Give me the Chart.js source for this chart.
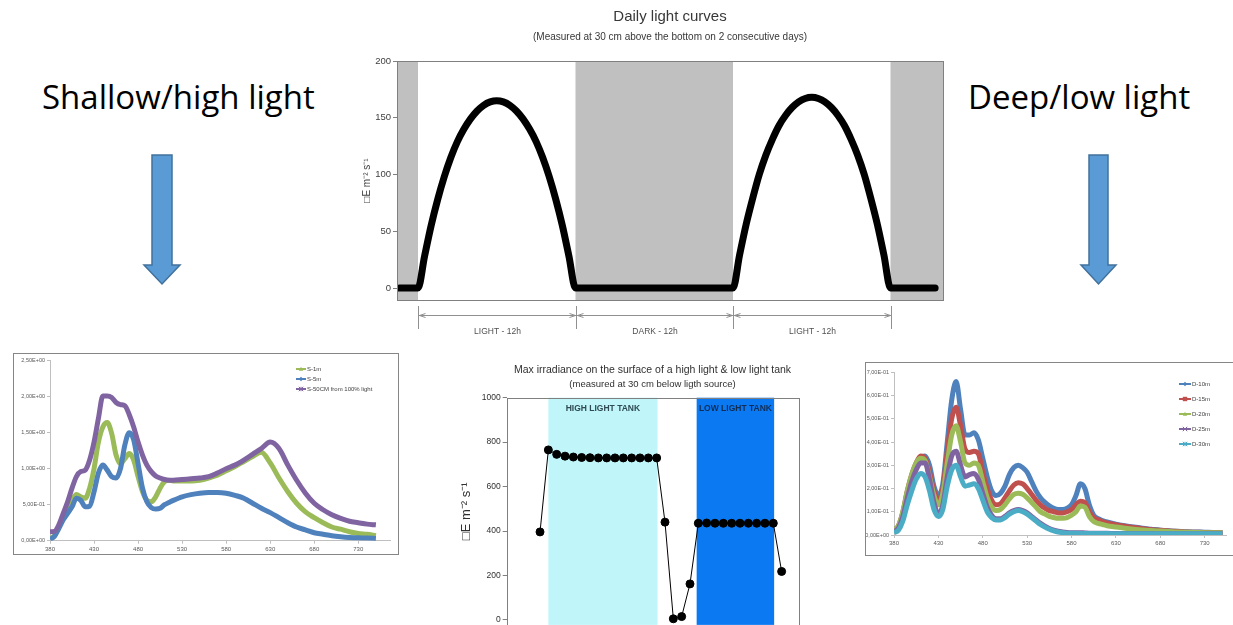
<!DOCTYPE html>
<html><head><meta charset="utf-8">
<script src="https://cdn.jsdelivr.net/npm/chart.js@4.4.1/dist/chart.umd.min.js"></script>
<style>
html,body{margin:0;padding:0;background:#fff;width:1233px;height:625px;overflow:hidden;position:relative}
canvas{position:absolute;display:block}
.big{position:absolute;font-family:'Open Sans',sans-serif;font-size:33px;color:#000;white-space:nowrap;line-height:1}
svg{position:absolute;left:0;top:0}
</style></head><body>
<div class="big" style="left:42px;top:80px">Shallow/high light</div>
<div class="big" style="left:968px;top:80px">Deep/low light</div>
<svg width="1233" height="625">
<path d="M152,155 H172 V265 H180 L162,284 L144,265 H152 Z" fill="#5B9BD5" stroke="#41719C" stroke-width="1.5"/>
<path d="M1089,155 H1108 V265 H1116 L1098.5,284 L1081,265 H1089 Z" fill="#5B9BD5" stroke="#41719C" stroke-width="1.5"/>
</svg>
<canvas id="cDaily" width="620" height="345" style="left:340px;top:0px"></canvas>
<canvas id="cTank" width="370" height="277" style="left:440px;top:355px"></canvas>
<canvas id="cLeft" width="386" height="202" style="left:13px;top:353px"></canvas>
<canvas id="cRight" width="368" height="194" style="left:865px;top:362px"></canvas>
<script>
// ---------- Daily light curves ----------
const dayHours = [-1.4,-0.7,0,0.5,1,1.5,2,2.5,3,3.5,4,4.5,5,5.5,6,6.5,7,7.5,8,8.5,9,9.5,10,10.5,11,11.5,12,15,18,21,24,24.5,25,25.5,26,26.5,27,27.5,28,28.5,29,29.5,30,30.5,31,31.5,32,32.5,33,33.5,34,34.5,35,35.5,36,37.5,39.4];
const dayPar = [0,0,0,28,55,78,98,115,129,140,149,156,161,164,165,164,161,156,149,140,129,115,98,78,55,28,0,0,0,0,0,29,56,79,100,117,131,143,152,159,164,167,168,167,164,159,152,143,131,117,100,79,56,29,0,0,0];
const dayYTicks = [0,50,100,150,200];
const darkPeriods = [[-1.6,0],[12,24],[36,40]];
const periodBounds = [0,12,24,36];
const periodLabels = ['LIGHT - 12h','DARK - 12h','LIGHT - 12h'];

// ---------- Max irradiance tank ----------
const tankPos = [1,2,3,4,5,6,7,8,9,10,11,12,13,14,15,16,17,18,19,20,21,22,23,24,25,26,27,28,29,30];
const tankPar = [396,765,745,737,733,731,730,729,729,729,729,729,729,729,729,440,5,15,162,435,436,435,435,435,435,435,435,435,435,218];
const tankYTicks = [0,200,400,600,800,1000];
const tankZones = [[2,15.1],[19.8,29.1]];
const tankZoneLabels = ['HIGH LIGHT TANK','LOW LIGHT TANK'];

// ---------- Shallow spectra ----------
const leftWl = [380,385,390,395,400,405,410,415,420,425,430,435,440,445,450,455,460,465,470,475,480,485,490,495,500,505,510,515,520,530,540,550,560,570,580,590,600,610,620,630,640,650,660,670,680,690,700,710,720,730,740,750];
const s1m = [0.03,0.07,0.19,0.31,0.43,0.56,0.64,0.61,0.59,0.73,1.0,1.37,1.58,1.64,1.49,1.19,1.07,1.14,1.21,1.12,0.89,0.68,0.56,0.54,0.61,0.73,0.82,0.84,0.83,0.83,0.83,0.84,0.87,0.91,0.97,1.03,1.10,1.17,1.23,1.08,0.87,0.68,0.52,0.40,0.32,0.25,0.19,0.16,0.125,0.10,0.09,0.07];
const s5m = [0.02,0.06,0.17,0.29,0.38,0.47,0.59,0.56,0.47,0.48,0.68,0.94,1.05,0.98,0.89,0.87,1.0,1.33,1.50,1.40,1.07,0.73,0.54,0.46,0.44,0.45,0.50,0.53,0.56,0.61,0.64,0.66,0.67,0.67,0.66,0.63,0.59,0.52,0.45,0.39,0.32,0.25,0.19,0.15,0.11,0.09,0.07,0.056,0.046,0.04,0.037,0.03];
const s50cm = [0.125,0.13,0.22,0.38,0.54,0.73,0.89,0.96,0.98,1.12,1.37,1.70,2.01,2.01,1.99,1.92,1.89,1.875,1.75,1.58,1.37,1.19,1.05,0.96,0.90,0.87,0.85,0.84,0.84,0.85,0.86,0.87,0.89,0.94,1.0,1.05,1.12,1.20,1.28,1.37,1.28,1.05,0.84,0.66,0.52,0.43,0.36,0.31,0.27,0.25,0.23,0.22];
const leftNames = ['S-1m','S-5m','S-50CM from 100% light'];
const leftXTicks = [380,430,480,530,580,630,680,730];
const leftYTicks = [0,0.5,1,1.5,2,2.5];
const leftYLabels = ['0,00E+00','5,00E-01','1,00E+00','1,50E+00','2,00E+00','2,50E+00'];

// ---------- Deep spectra ----------
const rightWl = [380,385,390,395,400,405,410,415,420,425,430,435,440,445,450,455,460,465,470,475,480,485,490,495,500,505,510,515,520,525,530,535,540,545,550,555,560,565,570,575,580,585,590,595,600,605,610,615,620,630,640,650,660,670,680,690,700,710,720,730,740,750];
const d10 = [0.02,0.03,0.08,0.17,0.24,0.29,0.33,0.34,0.30,0.21,0.17,0.22,0.40,0.58,0.66,0.54,0.43,0.43,0.44,0.41,0.33,0.25,0.19,0.17,0.18,0.21,0.26,0.29,0.30,0.29,0.27,0.23,0.19,0.16,0.14,0.125,0.115,0.11,0.11,0.115,0.13,0.17,0.22,0.20,0.13,0.085,0.07,0.062,0.056,0.047,0.04,0.034,0.029,0.025,0.021,0.018,0.016,0.014,0.013,0.012,0.011,0.011];
const d15 = [0.02,0.04,0.10,0.19,0.26,0.31,0.34,0.33,0.27,0.19,0.15,0.20,0.36,0.50,0.55,0.47,0.37,0.355,0.36,0.35,0.27,0.20,0.15,0.13,0.135,0.16,0.19,0.215,0.225,0.22,0.20,0.175,0.15,0.13,0.115,0.105,0.10,0.095,0.095,0.10,0.11,0.13,0.145,0.14,0.10,0.075,0.065,0.058,0.052,0.044,0.038,0.032,0.027,0.023,0.02,0.017,0.015,0.013,0.012,0.011,0.011,0.01];
const d20 = [0.02,0.04,0.10,0.19,0.26,0.31,0.33,0.32,0.25,0.17,0.13,0.18,0.31,0.43,0.47,0.40,0.31,0.30,0.31,0.30,0.23,0.16,0.12,0.105,0.11,0.13,0.155,0.175,0.18,0.175,0.16,0.14,0.12,0.10,0.09,0.08,0.075,0.072,0.072,0.075,0.085,0.10,0.125,0.12,0.08,0.058,0.05,0.045,0.04,0.034,0.029,0.025,0.022,0.019,0.017,0.015,0.013,0.012,0.011,0.01,0.01,0.01];
const d25 = [0.015,0.03,0.08,0.16,0.23,0.28,0.31,0.31,0.24,0.14,0.09,0.13,0.25,0.34,0.36,0.30,0.25,0.26,0.265,0.24,0.18,0.12,0.085,0.07,0.07,0.08,0.095,0.105,0.11,0.105,0.095,0.08,0.065,0.05,0.038,0.028,0.021,0.016,0.013,0.011,0.01,0.01,0.01,0.009,0.008,0.008,0.007,0.007,0.007,0.006,0.006,0.006,0.006,0.006,0.005,0.005,0.005,0.005,0.005,0.005,0.005,0.005];
const d30 = [0.01,0.02,0.06,0.13,0.19,0.24,0.265,0.25,0.19,0.11,0.08,0.11,0.21,0.28,0.30,0.25,0.21,0.215,0.22,0.20,0.15,0.10,0.075,0.065,0.065,0.075,0.09,0.10,0.105,0.10,0.09,0.075,0.06,0.045,0.034,0.025,0.018,0.013,0.01,0.008,0.007,0.007,0.006,0.006,0.006,0.006,0.006,0.006,0.006,0.005,0.005,0.005,0.005,0.005,0.005,0.005,0.005,0.005,0.005,0.005,0.005,0.005];
const rightNames = ['D-10m','D-15m','D-20m','D-25m','D-30m'];
const rightXTicks = [380,430,480,530,580,630,680,730];
const rightYTicks = [0,0.1,0.2,0.3,0.4,0.5,0.6,0.7];
const rightYLabels = ['0,00E+00','1,00E-01','2,00E-01','3,00E-01','4,00E-01','5,00E-01','6,00E-01','7,00E-01'];

const FONT = "'Liberation Sans', Arial, sans-serif";
const XLF = "'Liberation Sans', Arial, sans-serif";
const pts = (xs, ys) => xs.map((x,i)=>({x:x, y:ys[i]}));
const setTicks = arr => s => { s.ticks = arr.map(v=>({value:v})); };
const base = {responsive:false, animation:false, devicePixelRatio:1, events:[]};

// ===== Daily chart =====
const dailyDecor = {
  id:'dailyDecor',
  beforeDatasetsDraw(chart){
    const {ctx, chartArea:a, scales:{x}} = chart;
    ctx.save();
    ctx.fillStyle = '#C0C0C0';
    darkPeriods.forEach(([s,e])=>{
      const x0 = Math.max(x.getPixelForValue(s), a.left), x1 = Math.min(x.getPixelForValue(e), a.right);
      ctx.fillRect(x0, a.top, x1-x0, a.bottom-a.top);
    });
    ctx.restore();
  },
  afterDraw(chart){
    const {ctx, chartArea:a, scales:{x}} = chart;
    ctx.save();
    ctx.strokeStyle = '#808080'; ctx.lineWidth = 1;
    ctx.strokeRect(Math.round(a.left)+0.5, Math.round(a.top)+0.5, Math.round(a.right-a.left), Math.round(a.bottom-a.top));
    const yl = a.bottom + 15.5;
    ctx.strokeStyle = '#909090';
    ctx.beginPath();
    const px = periodBounds.map(v=>Math.round(x.getPixelForValue(v))+0.5);
    ctx.moveTo(px[0], yl); ctx.lineTo(px[px.length-1], yl);
    px.forEach(p=>{ctx.moveTo(p, a.bottom+6); ctx.lineTo(p, a.bottom+29);});
    for (let i=0;i<px.length-1;i++){
      ctx.moveTo(px[i]+7, yl-2); ctx.lineTo(px[i]+1, yl); ctx.lineTo(px[i]+7, yl+2);
      ctx.moveTo(px[i+1]-7, yl-2); ctx.lineTo(px[i+1]-1, yl); ctx.lineTo(px[i+1]-7, yl+2);
    }
    ctx.stroke();
    ctx.fillStyle = '#505050'; ctx.font = '8.5px ' + FONT; ctx.textAlign = 'center'; ctx.textBaseline = 'middle';
    periodLabels.forEach((t,i)=>{
      ctx.fillText(t, (px[i]+px[i+1])/2, a.bottom+32);
    });
    ctx.restore();
  }
};
new Chart(document.getElementById('cDaily'), {
  type:'line',
  data:{datasets:[{data:pts(dayHours, dayPar), borderColor:'#000', borderWidth:7, pointRadius:0,
    cubicInterpolationMode:'monotone', borderCapStyle:'round', borderJoinStyle:'round'}]},
  options:Object.assign({}, base, {
    layout:{padding:{top:0,left:0,right:17,bottom:45}},
    plugins:{legend:{display:false}, tooltip:{enabled:false},
      title:{display:true, text:'Daily light curves', fullSize:false, color:'#383838', font:{family:FONT,size:15,weight:'normal'}, padding:{top:8,bottom:2}},
      subtitle:{display:true, text:'(Measured at 30 cm above the bottom on 2 consecutive days)', fullSize:false, color:'#383838', font:{family:FONT,size:10}, padding:{top:3,bottom:18}}
    },
    scales:{
      x:{type:'linear', min:-1.6, max:40, display:false},
      y:{type:'linear', min:-10.5, max:200, afterBuildTicks:setTicks(dayYTicks), afterFit:s=>{s.width=57;},
        grid:{display:true, drawOnChartArea:false, drawTicks:true, tickLength:4, color:'#808080'}, border:{display:false},
        ticks:{color:'#404040', font:{family:FONT,size:9.5}, padding:2, callback:v=>String(v)},
        title:{display:true, text:'□E m⁻² s⁻¹', color:'#404040', font:{family:FONT,size:10}, padding:{top:21,bottom:0}}}
    }
  }),
  plugins:[dailyDecor]
});

// ===== Tank chart =====
const tankDecor = {
  id:'tankDecor',
  beforeDatasetsDraw(chart){
    const {ctx, chartArea:a, scales:{x}} = chart;
    ctx.save();
    const cols = ['#C0F6FA','#0B7AF2'];
    const tcols = ['#2E4A52','#112D55'];
    tankZones.forEach(([s,e],i)=>{
      const x0 = x.getPixelForValue(s), x1 = x.getPixelForValue(e);
      ctx.fillStyle = cols[i];
      ctx.fillRect(x0, a.top, x1-x0, a.bottom-a.top);
      ctx.fillStyle = tcols[i];
      ctx.font = 'bold 8.5px ' + FONT; ctx.textAlign='center'; ctx.textBaseline='middle';
      ctx.fillText(tankZoneLabels[i], (x0+x1)/2, a.top+11);
    });
    ctx.strokeStyle = '#808080'; ctx.lineWidth = 1;
    ctx.strokeRect(Math.round(a.left)+0.5, Math.round(a.top)+0.5, Math.round(a.right-a.left), Math.round(a.bottom-a.top)+5);
    ctx.restore();
  }
};
new Chart(document.getElementById('cTank'), {
  type:'line',
  data:{datasets:[{data:pts(tankPos, tankPar), borderColor:'#000', borderWidth:1, pointRadius:4, pointBackgroundColor:'#000', pointBorderColor:'#000', tension:0}]},
  options:Object.assign({}, base, {
    layout:{padding:{top:0,left:0,right:11.7,bottom:0}},
    plugins:{legend:{display:false}, tooltip:{enabled:false},
      title:{display:true, text:'Max irradiance on the surface of a high light & low light tank', fullSize:false, color:'#303030', font:{family:FONT,size:10.5,weight:'normal'}, padding:{top:8.7,bottom:0}},
      subtitle:{display:true, text:'(measured at 30 cm below ligth source)', fullSize:false, color:'#303030', font:{family:FONT,size:9.5}, padding:{top:2,bottom:8}}
    },
    scales:{
      x:{type:'linear', min:-3, max:32, display:false},
      y:{type:'linear', min:-22.5, max:1000, afterBuildTicks:setTicks(tankYTicks), afterFit:s=>{s.width=66.7;},
        grid:{display:true, drawOnChartArea:false, drawTicks:true, tickLength:4, color:'#808080'}, border:{display:false},
        ticks:{color:'#303030', font:{family:FONT,size:8.5}, padding:2, callback:v=>String(v)},
        title:{display:true, text:'□E m⁻² s⁻¹', color:'#303030', font:{family:FONT,size:13}, padding:{top:19,bottom:0}}}
    }
  }),
  plugins:[tankDecor]
});

// ===== spectral charts =====
function marker(ctx, type, x, y, r, col){
  ctx.save(); ctx.fillStyle = col; ctx.strokeStyle = col; ctx.lineWidth = 1;
  ctx.beginPath();
  if (type==='tri'){ ctx.moveTo(x, y-r); ctx.lineTo(x+r, y+r*0.8); ctx.lineTo(x-r, y+r*0.8); ctx.closePath(); ctx.fill(); }
  else if (type==='dia'){ ctx.moveTo(x, y-r); ctx.lineTo(x+r, y); ctx.lineTo(x, y+r); ctx.lineTo(x-r, y); ctx.closePath(); ctx.fill(); }
  else if (type==='sq'){ ctx.rect(x-r, y-r, 2*r, 2*r); ctx.fill(); }
  else if (type==='x'){ ctx.moveTo(x-r,y-r); ctx.lineTo(x+r,y+r); ctx.moveTo(x-r,y+r); ctx.lineTo(x+r,y-r); ctx.stroke(); }
  else if (type==='star'){ ctx.moveTo(x-r,y-r); ctx.lineTo(x+r,y+r); ctx.moveTo(x-r,y+r); ctx.lineTo(x+r,y-r); ctx.moveTo(x,y-r); ctx.lineTo(x,y+r); ctx.stroke(); }
  ctx.restore();
}
function legendPlugin(id, names, cols, marks, x0, x1, ys, full){
  return {
    id,
    afterDraw(chart){
      const ctx = chart.ctx;
      ctx.save();
      ctx.strokeStyle = '#868686'; ctx.lineWidth = 1;
      ctx.strokeRect(0.5, 0.5, full ? chart.width-1 : chart.width+10, chart.height-1);
      names.forEach((n,i)=>{
        ctx.strokeStyle = cols[i]; ctx.lineWidth = 2;
        ctx.beginPath(); ctx.moveTo(x0, ys[i]); ctx.lineTo(x1, ys[i]); ctx.stroke();
        marker(ctx, marks[i], (x0+x1)/2, ys[i], 2.2, cols[i]);
        ctx.fillStyle = '#404040'; ctx.font = '6px ' + XLF; ctx.textAlign='left'; ctx.textBaseline='middle';
        ctx.fillText(n, x1+1, ys[i]);
      });
      ctx.restore();
    }
  };
}
function specScales(xmin, xmax, xt, yt, ylab, ymax, yw, xh){
  return {
    x:{type:'linear', min:xmin, max:xmax, afterBuildTicks:setTicks(xt), afterFit:s=>{s.height=xh;},
      grid:{display:true, drawOnChartArea:false, drawTicks:true, tickLength:3, color:'#BFBFBF'}, border:{display:true, color:'#BFBFBF'},
      ticks:{color:'#595959', font:{family:XLF,size:6}, padding:2, autoSkip:false, maxRotation:0, callback:v=>String(v)}},
    y:{type:'linear', min:0, max:ymax, afterBuildTicks:setTicks(yt), afterFit:s=>{s.width=yw;},
      grid:{display:true, drawOnChartArea:false, drawTicks:true, tickLength:3, color:'#BFBFBF'}, border:{display:true, color:'#BFBFBF'},
      ticks:{color:'#595959', font:{family:XLF,size:5.5}, padding:2, callback:(v,i)=>ylab[i]}}
  };
}
const lcols = ['#9BBB59','#4F81BD','#8064A2'];
new Chart(document.getElementById('cLeft'), {
  type:'line',
  data:{datasets:[s1m,s5m,s50cm].map((d,i)=>({label:leftNames[i], data:pts(leftWl,d), borderColor:lcols[i], borderWidth:5, pointRadius:0, cubicInterpolationMode:'monotone', order:3-i}))},
  options:Object.assign({}, base, {
    layout:{padding:{top:7.7,left:0,right:9,bottom:0}},
    plugins:{legend:{display:false}, tooltip:{enabled:false}},
    scales:specScales(380, 766, leftXTicks, leftYTicks, leftYLabels, 2.5, 37, 14.3)
  }),
  plugins:[legendPlugin('lg1', leftNames, lcols, ['tri','dia','star'], 283, 293, [16,26,36], true)]
});
const rcols = ['#4F81BD','#C0504D','#9BBB59','#8064A2','#4BACC6'];
new Chart(document.getElementById('cRight'), {
  type:'line',
  data:{datasets:[d10,d15,d20,d25,d30].map((d,i)=>({label:rightNames[i], data:pts(rightWl,d), borderColor:rcols[i], borderWidth:5, pointRadius:0, cubicInterpolationMode:'monotone', order:5-i}))},
  options:Object.assign({}, base, {
    layout:{padding:{top:10.3,left:0,right:7,bottom:0}},
    plugins:{legend:{display:false}, tooltip:{enabled:false}},
    scales:specScales(380, 754, rightXTicks, rightYTicks, rightYLabels, 0.7, 29, 21)
  }),
  plugins:[legendPlugin('lg2', rightNames, rcols, ['dia','sq','tri','x','star'], 314, 326, [22,37,52,67,82], false)]
});
</script>
</body></html>
